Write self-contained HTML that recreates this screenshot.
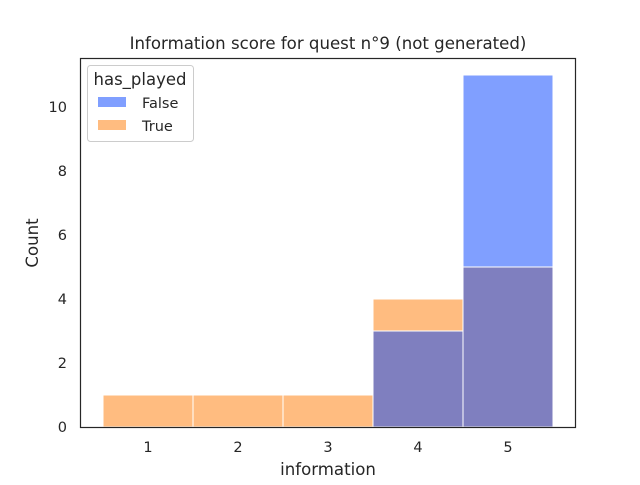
<!DOCTYPE html>
<html><head><meta charset="utf-8"><style>
body{margin:0;background:#fff;}
text{font-family:"DejaVu Sans","Liberation Sans",sans-serif;fill:#262626;}
</style></head><body>
<svg id="chart" width="640" height="480">
<rect width="640" height="480" fill="#fff"/>
<g id="bars"></g>
<rect x="80.5" y="58.5" width="495" height="369" fill="none" stroke="#262626" stroke-width="1.2"/>
<g id="axes"></g>
<text x="328" y="49" text-anchor="middle" font-size="16.6">Information score for quest n°9 (not generated)</text>
<text x="328" y="475" text-anchor="middle" font-size="16.6">information</text>
<text x="38" y="243" text-anchor="middle" font-size="16.6" transform="rotate(-90 38 243)">Count</text>
<g>
<rect x="87.5" y="65.5" width="106" height="76" rx="3" fill="#fff" fill-opacity="0.8" stroke="#ccc"/>
<text x="140" y="85" text-anchor="middle" font-size="16.5">has_played</text>
<g><rect x="98" y="97" width="28" height="10" fill="#809fff"/><text x="142" y="108" font-size="14.5">False</text></g>
<g><rect x="98" y="120" width="28" height="10" fill="#ffbc80"/><text x="142" y="131" font-size="14.5">True</text></g>
</g>
</svg>
<script>
const categories=[1,2,3,4,5];
const falseCounts=[0,0,0,3,11];
const trueCounts=[1,1,1,4,5];
const yTicks=[0,2,4,6,8,10];
const ns="http://www.w3.org/2000/svg";
const xs=v=>148+(v-1)*90;
const ys=v=>427-v*32;
const bars=document.getElementById('bars'),axes=document.getElementById('axes');
function rect(x,y,w,h,fill,name){const r=document.createElementNS(ns,'rect');
r.setAttribute('x',x);r.setAttribute('y',y);r.setAttribute('width',w);r.setAttribute('height',Math.max(0,h));
r.setAttribute('fill',fill);r.setAttribute('stroke','#fff');r.setAttribute('stroke-width','1');


bars.appendChild(r);}
categories.forEach((c,i)=>{const x0=xs(c-0.5),w=xs(c+0.5)-x0;
const f=falseCounts[i],t=trueCounts[i],m=Math.min(f,t);
if(f>0)rect(x0,ys(f),w,ys(0)-ys(f),'#809fff','bar-false-'+c);
if(t>0)rect(x0,ys(t),w,ys(0)-ys(t),'#ffbc80','bar-true-'+c);
if(m>0)rect(x0,ys(m),w,ys(0)-ys(m),'#7f7fbf','bar-overlap-'+c);});
categories.forEach(c=>{const t=document.createElementNS(ns,'text');t.setAttribute('x',xs(c));t.setAttribute('y',452);
t.setAttribute('text-anchor','middle');t.setAttribute('font-size','14.5');t.textContent=c;


axes.appendChild(t);});
yTicks.forEach(v=>{const t=document.createElementNS(ns,'text');t.setAttribute('x',67);t.setAttribute('y',ys(v)+5);
t.setAttribute('text-anchor','end');t.setAttribute('font-size','14.5');t.textContent=v;


axes.appendChild(t);});
</script>
</body></html>
